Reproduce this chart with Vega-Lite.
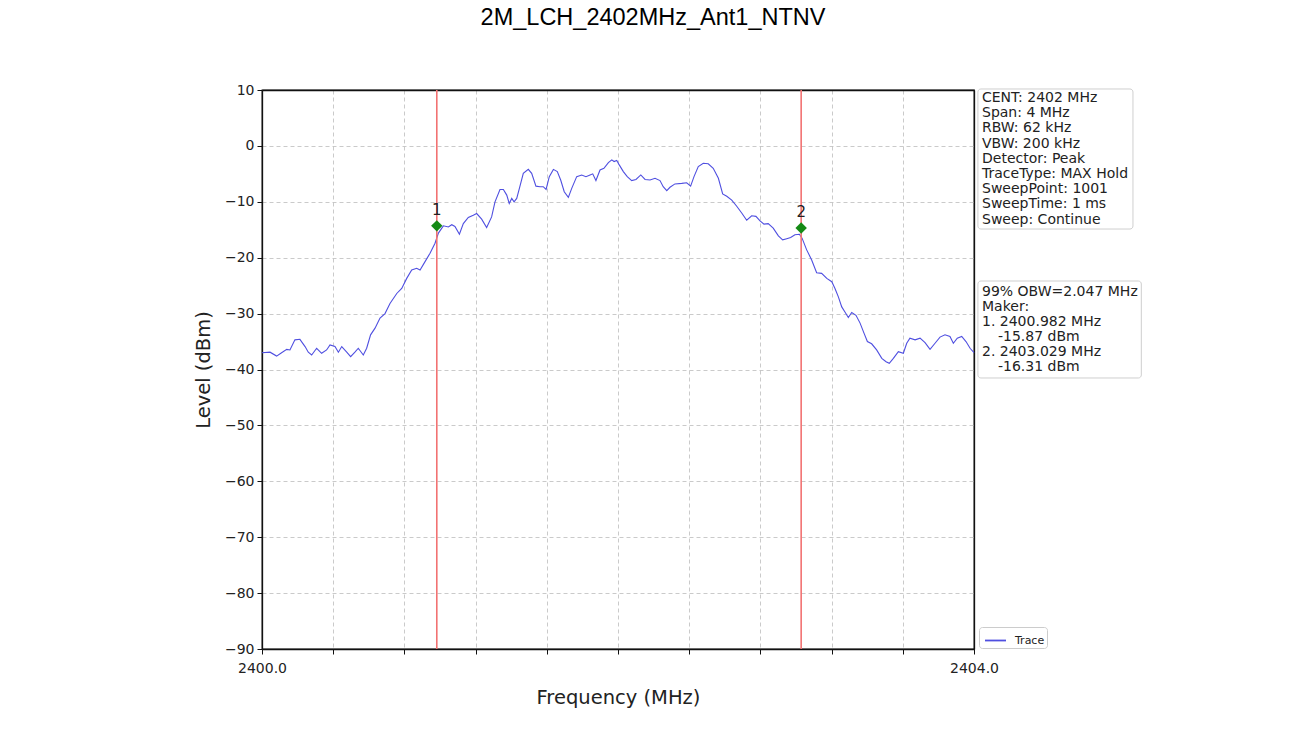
{
  "$schema": "https://vega.github.io/schema/vega-lite/v6.json",
  "width": 712,
  "height": 559,
  "autosize": {"type": "none"},
  "padding": {"left": 262, "top": 90, "right": 333, "bottom": 107},
  "background": "white",
  "title": {
    "text": "2M_LCH_2402MHz_Ant1_NTNV",
    "font": "Liberation Sans",
    "fontSize": 23.5,
    "fontWeight": "normal",
    "color": "#000000",
    "anchor": "middle",
    "frame": "group",
    "dx": 35,
    "offset": 54
  },
  "config": {
    "view": {"stroke": "#111111", "strokeWidth": 1.3},
    "axis": {
      "labelFont": "DejaVu Sans",
      "titleFont": "DejaVu Sans",
      "labelFontSize": 14,
      "titleFontSize": 19.5,
      "titleFontWeight": "normal",
      "labelColor": "#222222",
      "titleColor": "#222222",
      "domainColor": "#111111",
      "domainWidth": 1.3,
      "tickColor": "#111111",
      "tickSize": 5,
      "tickWidth": 1,
      "gridWidth": 0.8,
      "labelPadding": 3,
      "labelFlush": false
    },
    "legend": {
      "orient": "none",
      "legendX": 717,
      "legendY": 537,
      "strokeColor": "#cccccc",
      "fillColor": "white",
      "cornerRadius": 3,
      "padding": 2,
      "labelFont": "DejaVu Sans",
      "labelFontSize": 11,
      "labelColor": "#222222",
      "labelOffset": 8,
      "symbolOffset": 3,
      "symbolType": "stroke",
      "symbolStrokeWidth": 1.8,
      "symbolSize": 440
    }
  },
  "datasets": {
    "trace": [
      {"f": 2400.000, "l": -37.0}, {"f": 2400.045, "l": -36.9}, {"f": 2400.082, "l": -37.6},
      {"f": 2400.110, "l": -37.0}, {"f": 2400.139, "l": -36.4}, {"f": 2400.157, "l": -36.5},
      {"f": 2400.185, "l": -34.7}, {"f": 2400.213, "l": -34.6}, {"f": 2400.242, "l": -35.9},
      {"f": 2400.260, "l": -36.9}, {"f": 2400.279, "l": -37.4}, {"f": 2400.307, "l": -36.2},
      {"f": 2400.335, "l": -37.1}, {"f": 2400.363, "l": -36.5}, {"f": 2400.382, "l": -35.6},
      {"f": 2400.410, "l": -35.9}, {"f": 2400.429, "l": -36.9}, {"f": 2400.448, "l": -35.9},
      {"f": 2400.476, "l": -36.9}, {"f": 2400.498, "l": -37.7}, {"f": 2400.522, "l": -36.9},
      {"f": 2400.541, "l": -36.2}, {"f": 2400.569, "l": -37.4}, {"f": 2400.588, "l": -36.2},
      {"f": 2400.610, "l": -33.8}, {"f": 2400.635, "l": -32.6}, {"f": 2400.663, "l": -30.8},
      {"f": 2400.691, "l": -30.0}, {"f": 2400.719, "l": -28.2}, {"f": 2400.757, "l": -26.4},
      {"f": 2400.785, "l": -25.5}, {"f": 2400.813, "l": -23.7}, {"f": 2400.841, "l": -22.2},
      {"f": 2400.869, "l": -21.9}, {"f": 2400.888, "l": -22.2}, {"f": 2400.916, "l": -20.7},
      {"f": 2400.944, "l": -19.2}, {"f": 2400.972, "l": -17.4}, {"f": 2400.991, "l": -15.6},
      {"f": 2401.019, "l": -14.3}, {"f": 2401.047, "l": -14.5}, {"f": 2401.066, "l": -14.1},
      {"f": 2401.084, "l": -14.4}, {"f": 2401.109, "l": -15.8}, {"f": 2401.131, "l": -13.9},
      {"f": 2401.159, "l": -12.8}, {"f": 2401.187, "l": -12.4}, {"f": 2401.206, "l": -12.1},
      {"f": 2401.234, "l": -13.1}, {"f": 2401.262, "l": -14.6}, {"f": 2401.290, "l": -12.7},
      {"f": 2401.309, "l": -10.0}, {"f": 2401.337, "l": -7.8}, {"f": 2401.356, "l": -7.8},
      {"f": 2401.375, "l": -8.8}, {"f": 2401.389, "l": -10.3}, {"f": 2401.403, "l": -9.4},
      {"f": 2401.416, "l": -10.0}, {"f": 2401.431, "l": -9.4}, {"f": 2401.446, "l": -7.6},
      {"f": 2401.468, "l": -4.9}, {"f": 2401.496, "l": -4.2}, {"f": 2401.515, "l": -4.9},
      {"f": 2401.539, "l": -7.2}, {"f": 2401.562, "l": -7.3}, {"f": 2401.580, "l": -7.3},
      {"f": 2401.596, "l": -7.8}, {"f": 2401.614, "l": -5.5}, {"f": 2401.637, "l": -4.2},
      {"f": 2401.659, "l": -4.6}, {"f": 2401.678, "l": -6.1}, {"f": 2401.698, "l": -8.2},
      {"f": 2401.721, "l": -9.2}, {"f": 2401.740, "l": -7.6}, {"f": 2401.768, "l": -5.5},
      {"f": 2401.796, "l": -5.2}, {"f": 2401.820, "l": -5.5}, {"f": 2401.843, "l": -5.2},
      {"f": 2401.858, "l": -5.0}, {"f": 2401.876, "l": -6.2}, {"f": 2401.899, "l": -4.3},
      {"f": 2401.921, "l": -4.0}, {"f": 2401.946, "l": -3.0}, {"f": 2401.965, "l": -2.5},
      {"f": 2401.978, "l": -2.8}, {"f": 2401.993, "l": -2.6}, {"f": 2402.007, "l": -3.4},
      {"f": 2402.030, "l": -4.6}, {"f": 2402.052, "l": -5.5}, {"f": 2402.077, "l": -6.2},
      {"f": 2402.101, "l": -6.0}, {"f": 2402.128, "l": -5.2}, {"f": 2402.152, "l": -6.0},
      {"f": 2402.180, "l": -6.1}, {"f": 2402.208, "l": -5.8}, {"f": 2402.236, "l": -6.2},
      {"f": 2402.254, "l": -7.3}, {"f": 2402.274, "l": -8.0}, {"f": 2402.292, "l": -7.4},
      {"f": 2402.320, "l": -6.8}, {"f": 2402.358, "l": -6.7}, {"f": 2402.386, "l": -6.6},
      {"f": 2402.408, "l": -7.2}, {"f": 2402.427, "l": -5.5}, {"f": 2402.451, "l": -3.7},
      {"f": 2402.479, "l": -3.1}, {"f": 2402.507, "l": -3.2}, {"f": 2402.535, "l": -4.0},
      {"f": 2402.564, "l": -5.8}, {"f": 2402.588, "l": -8.6}, {"f": 2402.611, "l": -9.0},
      {"f": 2402.639, "l": -9.7}, {"f": 2402.667, "l": -10.8}, {"f": 2402.695, "l": -12.0},
      {"f": 2402.723, "l": -13.3}, {"f": 2402.751, "l": -12.5}, {"f": 2402.775, "l": -12.6},
      {"f": 2402.798, "l": -13.4}, {"f": 2402.820, "l": -14.0}, {"f": 2402.844, "l": -13.9},
      {"f": 2402.872, "l": -14.7}, {"f": 2402.901, "l": -16.1}, {"f": 2402.925, "l": -16.8},
      {"f": 2402.948, "l": -16.6}, {"f": 2402.970, "l": -16.4}, {"f": 2402.994, "l": -15.9},
      {"f": 2403.019, "l": -15.8}, {"f": 2403.034, "l": -16.5}, {"f": 2403.060, "l": -18.6},
      {"f": 2403.088, "l": -20.4}, {"f": 2403.116, "l": -22.7}, {"f": 2403.144, "l": -22.8},
      {"f": 2403.173, "l": -23.7}, {"f": 2403.201, "l": -24.3}, {"f": 2403.219, "l": -25.5},
      {"f": 2403.238, "l": -27.0}, {"f": 2403.257, "l": -28.8}, {"f": 2403.275, "l": -29.7},
      {"f": 2403.294, "l": -30.7}, {"f": 2403.313, "l": -29.8}, {"f": 2403.337, "l": -30.3},
      {"f": 2403.360, "l": -31.7}, {"f": 2403.382, "l": -33.5}, {"f": 2403.401, "l": -35.0},
      {"f": 2403.425, "l": -35.4}, {"f": 2403.453, "l": -36.5}, {"f": 2403.482, "l": -38.0},
      {"f": 2403.506, "l": -38.6}, {"f": 2403.524, "l": -38.9}, {"f": 2403.547, "l": -38.0},
      {"f": 2403.575, "l": -36.8}, {"f": 2403.603, "l": -37.1}, {"f": 2403.622, "l": -35.3},
      {"f": 2403.640, "l": -34.4}, {"f": 2403.669, "l": -34.7}, {"f": 2403.697, "l": -34.4},
      {"f": 2403.725, "l": -35.2}, {"f": 2403.753, "l": -36.4}, {"f": 2403.781, "l": -35.3},
      {"f": 2403.809, "l": -34.2}, {"f": 2403.837, "l": -33.8}, {"f": 2403.865, "l": -34.1},
      {"f": 2403.884, "l": -35.3}, {"f": 2403.906, "l": -34.4}, {"f": 2403.931, "l": -34.1},
      {"f": 2403.955, "l": -35.0}, {"f": 2403.978, "l": -36.2}, {"f": 2404.000, "l": -37.0}
    ],
    "markers": [
      {"n": "1", "f": 2400.982, "l": -14.3},
      {"n": "2", "f": 2403.029, "l": -14.7}
    ],
    "info1": [
      {"t": "CENT: 2402 MHz\nSpan: 4 MHz\nRBW: 62 kHz\nVBW: 200 kHz\nDetector: Peak\nTraceType: MAX Hold\nSweepPoint: 1001\nSweepTime: 1 ms\nSweep: Continue"}
    ],
    "info2": [
      {"head": "99% OBW=2.047 MHz\nMaker:\n1. 2400.982 MHz", "m1": "-15.87 dBm", "f2": "2. 2403.029 MHz", "m2": "-16.31 dBm"}
    ]
  },
  "layer": [
    {
      "data": {"name": "trace"},
      "mark": {"type": "line", "strokeWidth": 1.1, "interpolate": "linear"},
      "encoding": {
        "x": {
          "field": "f", "type": "quantitative",
          "scale": {"domain": [2400, 2404], "nice": false, "zero": false},
          "title": "Frequency (MHz)",
          "axis": {
            "values": [2400, 2400.4, 2400.8, 2401.2, 2401.6, 2402, 2402.4, 2402.8, 2403.2, 2403.6, 2404],
            "labelExpr": "datum.value == 2400 || datum.value == 2404 ? format(datum.value, '.1f') : ''",
            "grid": true,
            "gridColor": {"condition": {"test": "datum.value >= 2404", "value": "#111111"}, "value": "#bdbdbd"},
            "gridDash": {"condition": {"test": "datum.value >= 2404", "value": []}, "value": [4, 3]},
            "gridWidth": {"condition": {"test": "datum.value >= 2404", "value": 1.3}, "value": 0.8},
            "labelPadding": 7,
            "titlePadding": 13
          }
        },
        "y": {
          "field": "l", "type": "quantitative",
          "scale": {"domain": [-90, 10], "nice": false, "zero": false},
          "title": "Level (dBm)",
          "axis": {
            "values": [-90, -80, -70, -60, -50, -40, -30, -20, -10, 0, 10],
            "labelExpr": "replace(datum.label, '-', '\u2212')",
            "grid": true,
            "gridColor": {"condition": {"test": "datum.value >= 10", "value": "#111111"}, "value": "#bdbdbd"},
            "gridDash": {"condition": {"test": "datum.value >= 10", "value": []}, "value": [4, 3]},
            "gridWidth": {"condition": {"test": "datum.value >= 10", "value": 1.3}, "value": 0.8},
            "titlePadding": 11
          }
        },
        "color": {
          "datum": "Trace",
          "type": "nominal",
          "scale": {"range": ["#4f4fe0"]},
          "legend": {"title": null}
        }
      }
    },
    {
      "data": {"name": "markers"},
      "mark": {"type": "rule", "color": "#f27272", "strokeWidth": 1.6},
      "encoding": {
        "x": {"field": "f", "type": "quantitative", "title": "Frequency (MHz)"}
      }
    },
    {
      "data": {"name": "markers"},
      "mark": {"type": "point", "shape": "diamond", "filled": true, "size": 130, "color": "#158a15", "opacity": 1},
      "encoding": {
        "x": {"field": "f", "type": "quantitative", "title": "Frequency (MHz)"},
        "y": {"field": "l", "type": "quantitative", "title": "Level (dBm)"}
      }
    },
    {
      "data": {"name": "markers"},
      "mark": {"type": "text", "font": "DejaVu Sans", "fontSize": 15, "color": "#222222", "baseline": "middle", "align": "center", "dy": -16},
      "encoding": {
        "x": {"field": "f", "type": "quantitative", "title": "Frequency (MHz)"},
        "y": {"field": "l", "type": "quantitative", "title": "Level (dBm)"},
        "text": {"field": "n"}
      }
    },
    {
      "data": {"name": "info1"},
      "mark": {"type": "rect", "fill": "white", "stroke": "#cfcfcf", "strokeWidth": 1, "cornerRadius": 3},
      "encoding": {
        "x": {"datum": 2404.022, "type": "quantitative", "title": "Frequency (MHz)"},
        "x2": {"datum": 2404.893},
        "y": {"datum": 10.18, "type": "quantitative", "title": "Level (dBm)"},
        "y2": {"datum": -14.87}
      }
    },
    {
      "data": {"name": "info2"},
      "mark": {"type": "rect", "fill": "white", "stroke": "#cfcfcf", "strokeWidth": 1, "cornerRadius": 3},
      "encoding": {
        "x": {"datum": 2404.022, "type": "quantitative", "title": "Frequency (MHz)"},
        "x2": {"datum": 2404.94},
        "y": {"datum": -24.17, "type": "quantitative", "title": "Level (dBm)"},
        "y2": {"datum": -41.52}
      }
    },
    {
      "data": {"name": "info1"},
      "mark": {"type": "text", "font": "DejaVu Sans", "fontSize": 14, "lineHeight": 15.2, "lineBreak": "\n", "align": "left", "baseline": "top", "color": "#222222", "dx": 8, "dy": 1},
      "encoding": {
        "x": {"datum": 2404, "type": "quantitative", "title": "Frequency (MHz)"},
        "y": {"datum": 10, "type": "quantitative", "title": "Level (dBm)"},
        "text": {"field": "t"}
      }
    },
    {
      "data": {"name": "info2"},
      "mark": {"type": "text", "font": "DejaVu Sans", "fontSize": 14, "lineHeight": 15, "lineBreak": "\n", "align": "left", "baseline": "top", "color": "#222222", "dx": 8, "dy": -1},
      "encoding": {
        "x": {"datum": 2404, "type": "quantitative", "title": "Frequency (MHz)"},
        "y": {"datum": -25, "type": "quantitative", "title": "Level (dBm)"},
        "text": {"field": "head"}
      }
    },
    {
      "data": {"name": "info2"},
      "mark": {"type": "text", "font": "DejaVu Sans", "fontSize": 14, "align": "left", "baseline": "top", "color": "#222222", "dx": 24, "dy": 44},
      "encoding": {
        "x": {"datum": 2404, "type": "quantitative", "title": "Frequency (MHz)"},
        "y": {"datum": -25, "type": "quantitative", "title": "Level (dBm)"},
        "text": {"field": "m1"}
      }
    },
    {
      "data": {"name": "info2"},
      "mark": {"type": "text", "font": "DejaVu Sans", "fontSize": 14, "align": "left", "baseline": "top", "color": "#222222", "dx": 8, "dy": 59},
      "encoding": {
        "x": {"datum": 2404, "type": "quantitative", "title": "Frequency (MHz)"},
        "y": {"datum": -25, "type": "quantitative", "title": "Level (dBm)"},
        "text": {"field": "f2"}
      }
    },
    {
      "data": {"name": "info2"},
      "mark": {"type": "text", "font": "DejaVu Sans", "fontSize": 14, "align": "left", "baseline": "top", "color": "#222222", "dx": 24, "dy": 74},
      "encoding": {
        "x": {"datum": 2404, "type": "quantitative", "title": "Frequency (MHz)"},
        "y": {"datum": -25, "type": "quantitative", "title": "Level (dBm)"},
        "text": {"field": "m2"}
      }
    }
  ]
}
